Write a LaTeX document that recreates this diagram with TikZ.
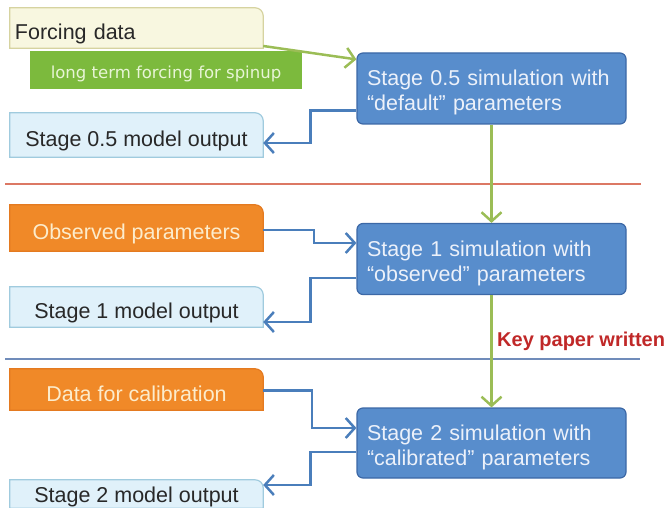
\documentclass[tikz,border=0pt]{standalone}
\usepackage{fontspec}
\setmainfont{Liberation Sans}
\newfontfamily\spinfont{DejaVu Sans}
\usetikzlibrary{arrows.meta,backgrounds}

\definecolor{creamfill}{RGB}{248,247,224}
\definecolor{creamline}{RGB}{214,211,160}
\definecolor{spingreen}{RGB}{124,186,61}
\definecolor{spintext}{RGB}{232,245,214}
\definecolor{outfill}{RGB}{224,241,250}
\definecolor{outline}{RGB}{160,203,222}
\definecolor{obsorange}{RGB}{240,137,40}
\definecolor{obsline}{RGB}{228,122,32}
\definecolor{obstext}{RGB}{252,236,204}
\definecolor{simfill}{RGB}{88,141,204}
\definecolor{simline}{RGB}{60,104,166}
\definecolor{simtext}{RGB}{236,241,250}
\definecolor{darktext}{RGB}{40,40,40}
\definecolor{linkblue}{RGB}{74,126,187}
\definecolor{linkgreen}{RGB}{155,189,86}
\definecolor{sepred}{RGB}{220,120,100}
\definecolor{sepblue}{RGB}{112,140,186}
\definecolor{keyred}{RGB}{192,40,40}

\begin{document}
\begin{tikzpicture}[x=1pt,y=-1pt,
    every node/.style={font=\fontsize{21.5}{25}\selectfont, inner sep=0pt},
    tabnode/.style={minimum width=253pt, minimum height=#1, text height=23pt, text depth=0pt},
    simnode/.style={text width=249pt, inner xsep=10pt, align=left, minimum height=71pt,
        text height=16pt, text depth=21pt,
        fill=simfill, draw=simline, line width=1.2pt, rounded corners=6pt, text=simtext},
    bluelink/.style={draw=linkblue, line width=2.5pt, -{Straight Barb[length=9pt,width=20pt]}},
    greenlink/.style={draw=linkgreen, line width=2.5pt, -{Straight Barb[length=9pt,width=20pt]}}
]
    \useasboundingbox (0,0) rectangle (667,508);
    \clip (0,0) rectangle (667,508);

    % separators
    \draw [sepred, line width=2pt] (5,184) -- (641,184);
    \draw [sepblue, line width=2pt] (5,359) -- (640,359);

    % left column
    \node[tabnode=40pt, text width=243pt, inner xsep=5pt, align=left, text=darktext] (fd) at (136.5,28) {Forcing data};
    \node[fill=spingreen, minimum width=272pt, minimum height=38pt, text=spintext,
        text height=17pt, text depth=0pt,
        font=\spinfont\fontsize{16.5}{20}\selectfont] (spin) at (166,70) {long term forcing for spinup};
    \node[tabnode=44pt, text=darktext] (out05) at (136.5,135) {Stage 0.5 model output};
    \node[tabnode=46pt, text=obstext] (obs) at (136.5,228) {Observed parameters};
    \node[tabnode=40pt, text=darktext] (out1) at (136.5,307) {Stage 1 model output};
    \node[tabnode=41pt, text=obstext] (cal) at (136.5,389.5) {Data for calibration};
    \node[tabnode=28pt, text height=16pt, text=darktext] (out2) at (136.5,494) {Stage 2 model output};

    % simulations
    \node[simnode] (s05) at (491.5,88.5) {Stage 0.5 simulation with\\``default'' parameters};
    \node[simnode] (s1) at (491.5,259) {Stage 1 simulation with\\``observed'' parameters};
    \node[simnode, minimum height=70pt] (s2) at (491.5,443) {Stage 2 simulation with\\``calibrated'' parameters};

    \node[anchor=west, text=keyred, font=\bfseries\fontsize{20}{24}\selectfont] (key) at (497,341) {Key paper written};

    % tab shaped boxes
    \begin{scope}[on background layer]
        \foreach \n/\f/\l in {fd/creamfill/creamline, out05/outfill/outline, obs/obsorange/obsline,
                out1/outfill/outline, cal/obsorange/obsline, out2/outfill/outline} {
            \filldraw [fill=\f, draw=\l, line width=1.2pt] (\n.south west) -- (\n.north west)
                -- ([xshift=-8pt]\n.north east) arc[start angle=90, end angle=0, radius=8pt]
                -- (\n.south east) -- cycle;
        }
    \end{scope}

    % links
    \draw [greenlink] ([yshift=-18pt]fd.east) -- ([yshift=-7pt]s05.north west);
    \draw [greenlink] (s05.south) -- (s1.north);
    \draw [greenlink] (s1.south) -- (s2.north);
    \draw [bluelink] ([yshift=-22pt]s05.west) -- ++(-46,0) |- ([yshift=-8pt]out05.east);
    \draw [bluelink] ([yshift=-2pt]obs.east) -- ++(51,0) |- ([yshift=16pt]s1.west);
    \draw [bluelink] ([yshift=-19pt]s1.west) -- ++(-46,0) |- ([yshift=-15pt]out1.east);
    \draw [bluelink] ([yshift=-1pt]cal.east) -- ++(49,0) |- ([yshift=15pt]s2.west);
    \draw [bluelink] ([yshift=-9pt]s2.west) -- ++(-46,0) |- ([yshift=9pt]out2.east);
\end{tikzpicture}
\end{document}
